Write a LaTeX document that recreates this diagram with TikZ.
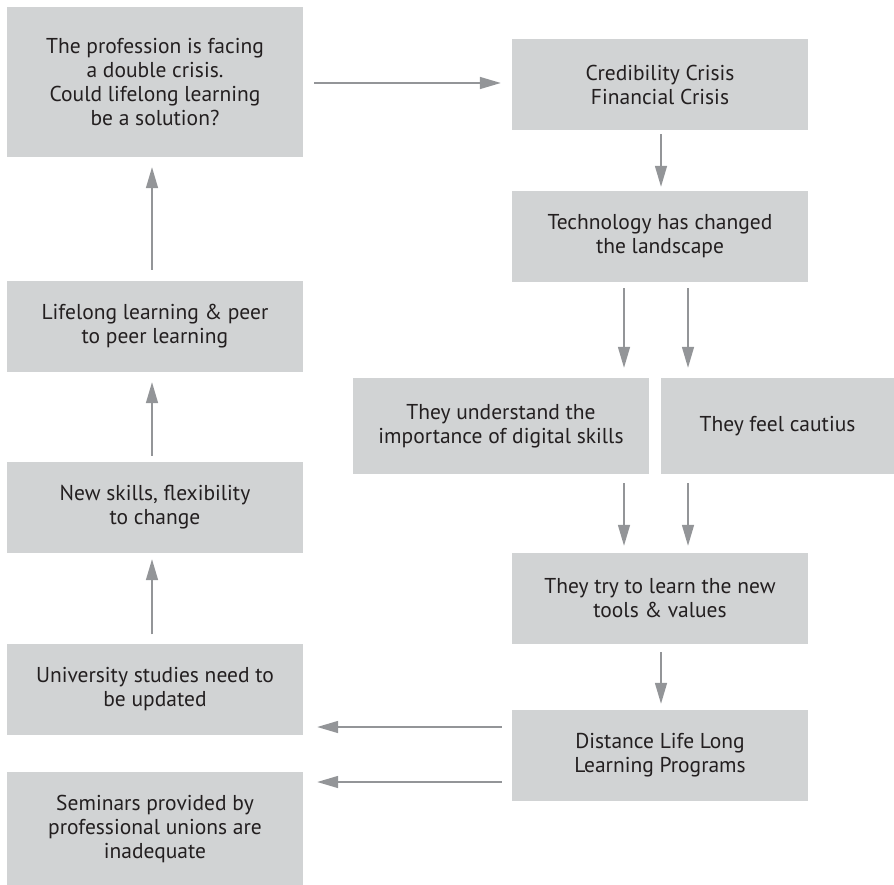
\documentclass[tikz,border=0pt]{standalone}
\usepackage{fontspec}
\setmainfont{PT Sans}
\usetikzlibrary{arrows.meta,calc}
\definecolor{boxfill}{HTML}{D1D3D4}
\definecolor{arrowgray}{HTML}{939598}
\definecolor{txt}{HTML}{231F20}
\begin{document}
\begin{tikzpicture}[x=1pt,y=-1pt,
  box/.style={fill=boxfill, draw=none, text=txt, align=center, minimum width=296pt, minimum height=91pt, inner sep=0pt, font=\fontsize{21.5}{24}\selectfont},
  arr/.style={draw=arrowgray, line width=1.5pt, -{Triangle[length=21pt,width=12pt,fill=arrowgray]}}]
\useasboundingbox (0,0) rectangle (894,885);
% left column
\node[box, minimum height=150pt] (b1) at (155,82) {The profession is facing\\a double crisis.\\Could lifelong learning\\be a solution?};
\node[box] (b8) at (155,326.5) {Lifelong learning \& peer\\to peer learning};
\node[box] (b9) at (155,507.5) {New skills, flexibility\\to change};
\node[box] (b10) at (155,689) {University studies need to\\be updated};
\node[box, minimum height=113pt] (b11) at (155,828.5) {Seminars provided by\\professional unions are\\inadequate};
% right column
\node[box] (b2) at (660,84.5) {Credibility Crisis\\Financial Crisis};
\node[box] (b3) at (660,236.5) {Technology has changed\\the landscape};
\node[box, minimum height=96pt] (b4) at (501,426) {They understand the\\importance of digital skills};
\node[box, minimum height=96pt, minimum width=233pt] (b5) at (777.5,426) {They feel cautius};
\node[box] (b6) at (660,598.5) {They try to learn the new\\tools \& values};
\node[box] (b7) at (660,755.5) {Distance Life Long\\Learning Programs};
% connectors
\draw[arr] ($(b1.east)+(11,1)$) -- ($(b1.east -| b2.west)+(-11,1)$);
\draw[arr] ($(b2.south)+(1,4)$) -- ($(b3.north)+(1,-4)$);
\draw[arr] ($(b3.south)+(-36,6)$) -- ($(b3.south |- b4.north)+(-36,-10)$);
\draw[arr] ($(b3.south)+(28,6)$) -- ($(b3.south |- b5.north)+(28,-10)$);
\draw[arr] ($(b4.south -| b6.north)+(-36,9)$) -- ($(b6.north)+(-36,-7)$);
\draw[arr] ($(b5.south -| b6.north)+(28,9)$) -- ($(b6.north)+(28,-7)$);
\draw[arr] ($(b6.south)+(1,8)$) -- ($(b7.north)+(1,-6)$);
\draw[arr] ($(b7.west)+(-10,-28.5)$) -- ($(b7.west -| b10.east)+(14,-28.5)$);
\draw[arr] ($(b7.west)+(-10,26.5)$) -- ($(b7.west -| b11.east)+(14,26.5)$);
\draw[arr] ($(b10.north)+(-3,-9)$) -- ($(b9.south)+(-3,6)$);
\draw[arr] ($(b9.north)+(-3,-6)$) -- ($(b8.south)+(-3,10)$);
\draw[arr] ($(b8.north)+(-3,-11)$) -- ($(b1.south)+(-3,10)$);
\end{tikzpicture}
\end{document}
